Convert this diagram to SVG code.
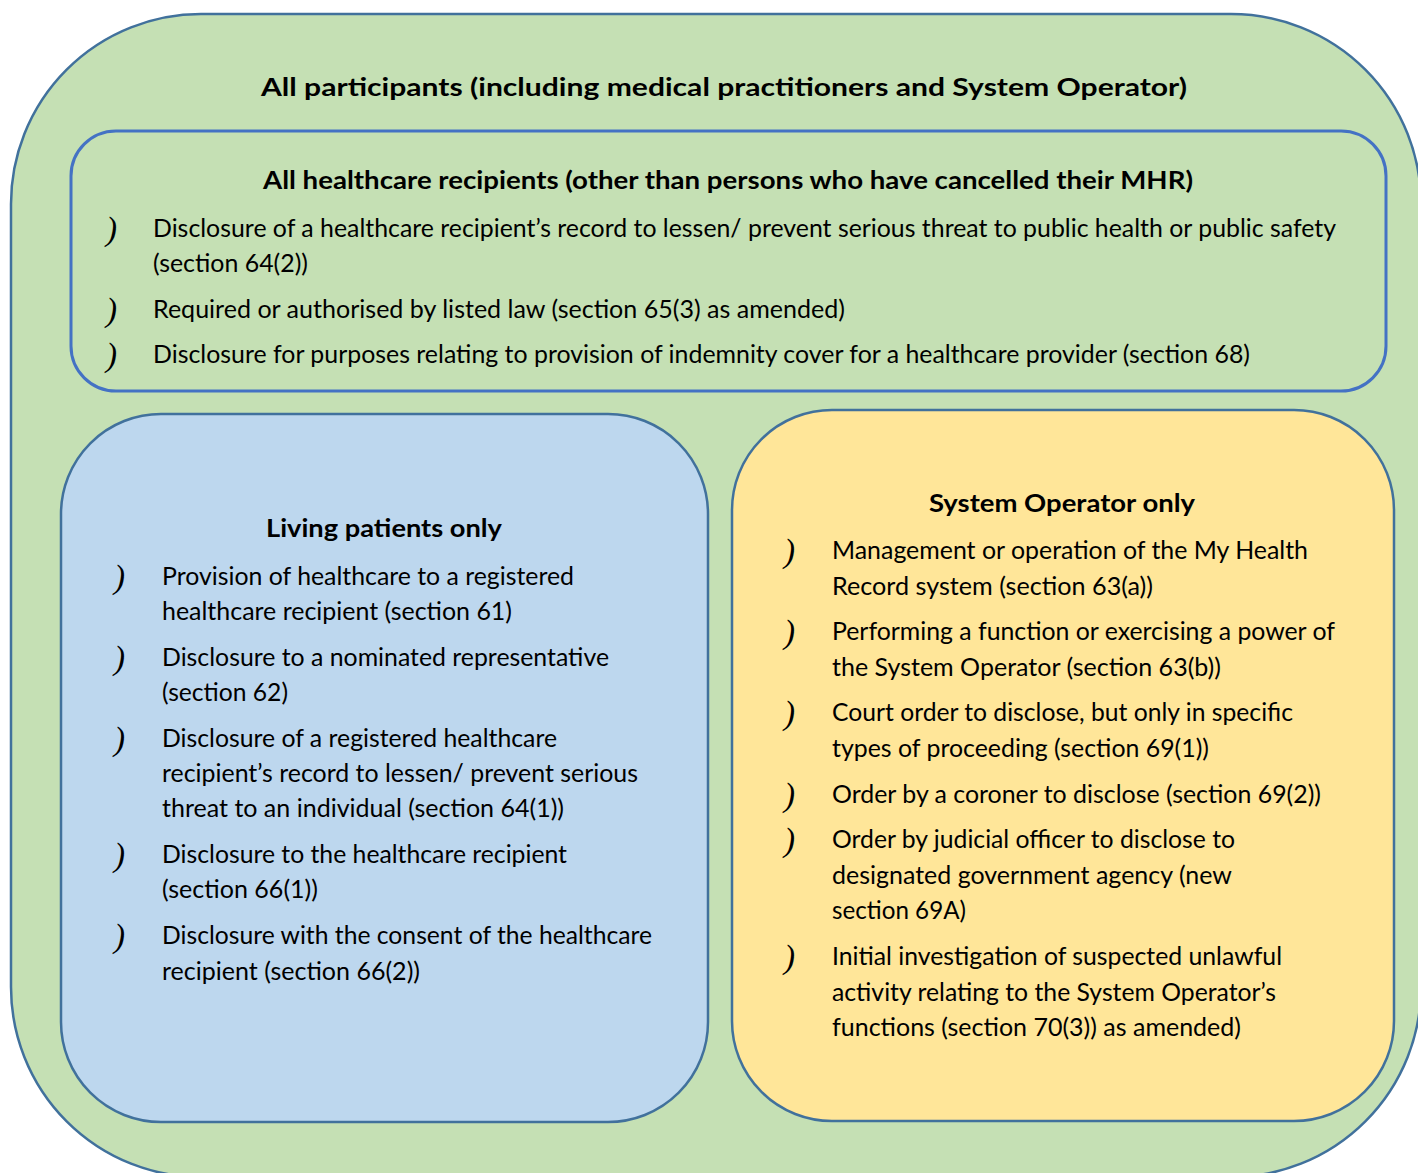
<svg xmlns="http://www.w3.org/2000/svg" width="1418" height="1173" viewBox="0 0 1418 1173">
<style>
.t{font-family:Lato,"Open Sans","Liberation Sans",sans-serif;font-size:25px;fill:#000}
.h{font-family:Lato,"Open Sans","Liberation Sans",sans-serif;font-size:25px;font-weight:bold;fill:#000}
.b{font-family:"Liberation Serif",serif;font-style:italic;font-size:33px;fill:#000}
.box{stroke:#41719C;stroke-width:2.5}
</style>
<rect x="0" y="0" width="1418" height="1173" fill="#FFFFFF"/>
<g id="all-participants">
<rect class="box" x="11" y="14" width="1410" height="1163" rx="190" ry="190" fill="#C5E0B4"/>
<text class="h" x="261" y="96" textLength="926" lengthAdjust="spacingAndGlyphs">All participants (including medical practitioners and System Operator)</text>
</g>
<g id="healthcare-recipients">
<rect x="71" y="131" width="1315" height="260" rx="45" ry="45" fill="#C5E0B4" stroke="#4472C4" stroke-width="3"/>
<text class="h" x="263" y="189" textLength="930" lengthAdjust="spacingAndGlyphs">All healthcare recipients (other than persons who have cancelled their MHR)</text>
<text class="b" x="106" y="240">)</text>
<text class="t" x="153" y="237" textLength="1183" lengthAdjust="spacingAndGlyphs">Disclosure of a healthcare recipient’s record to lessen/ prevent serious threat to public health or public safety</text>
<text class="t" x="153" y="272" textLength="155" lengthAdjust="spacingAndGlyphs">(section 64(2))</text>
<text class="b" x="106" y="321">)</text>
<text class="t" x="153" y="318" textLength="692" lengthAdjust="spacingAndGlyphs">Required or authorised by listed law (section 65(3) as amended)</text>
<text class="b" x="106" y="366">)</text>
<text class="t" x="153" y="363" textLength="1097" lengthAdjust="spacingAndGlyphs">Disclosure for purposes relating to provision of indemnity cover for a healthcare provider (section 68)</text>
</g>
<g id="living-patients">
<rect class="box" x="61" y="414" width="647" height="708" rx="100" ry="100" fill="#BDD7EE"/>
<text class="h" x="266" y="537" textLength="236" lengthAdjust="spacingAndGlyphs">Living patients only</text>
<text class="b" x="114" y="588">)</text>
<text class="t" x="162" y="585" textLength="412" lengthAdjust="spacingAndGlyphs">Provision of healthcare to a registered</text>
<text class="t" x="162" y="620" textLength="350" lengthAdjust="spacingAndGlyphs">healthcare recipient (section 61)</text>
<text class="b" x="114" y="669">)</text>
<text class="t" x="162" y="666" textLength="447" lengthAdjust="spacingAndGlyphs">Disclosure to a nominated representative</text>
<text class="t" x="162" y="701" textLength="126" lengthAdjust="spacingAndGlyphs">(section 62)</text>
<text class="b" x="114" y="750">)</text>
<text class="t" x="162" y="747" textLength="395" lengthAdjust="spacingAndGlyphs">Disclosure of a registered healthcare</text>
<text class="t" x="162" y="782" textLength="476" lengthAdjust="spacingAndGlyphs">recipient’s record to lessen/ prevent serious</text>
<text class="t" x="162" y="817" textLength="402" lengthAdjust="spacingAndGlyphs">threat to an individual (section 64(1))</text>
<text class="b" x="114" y="866">)</text>
<text class="t" x="162" y="863" textLength="405" lengthAdjust="spacingAndGlyphs">Disclosure to the healthcare recipient</text>
<text class="t" x="162" y="898" textLength="156" lengthAdjust="spacingAndGlyphs">(section 66(1))</text>
<text class="b" x="114" y="947">)</text>
<text class="t" x="162" y="944" textLength="490" lengthAdjust="spacingAndGlyphs">Disclosure with the consent of the healthcare</text>
<text class="t" x="162" y="980" textLength="258" lengthAdjust="spacingAndGlyphs">recipient (section 66(2))</text>
</g>
<g id="system-operator">
<rect class="box" x="732" y="410" width="662" height="711" rx="100" ry="100" fill="#FFE699"/>
<text class="h" x="929" y="512" textLength="266" lengthAdjust="spacingAndGlyphs">System Operator only</text>
<text class="b" x="784" y="562">)</text>
<text class="t" x="832" y="559" textLength="476" lengthAdjust="spacingAndGlyphs">Management or operation of the My Health</text>
<text class="t" x="832" y="595" textLength="321" lengthAdjust="spacingAndGlyphs">Record system (section 63(a))</text>
<text class="b" x="784" y="643">)</text>
<text class="t" x="832" y="640" textLength="503" lengthAdjust="spacingAndGlyphs">Performing a function or exercising a power of</text>
<text class="t" x="832" y="676" textLength="389" lengthAdjust="spacingAndGlyphs">the System Operator (section 63(b))</text>
<text class="b" x="784" y="724">)</text>
<text class="t" x="832" y="721" textLength="461" lengthAdjust="spacingAndGlyphs">Court order to disclose, but only in specific</text>
<text class="t" x="832" y="757" textLength="377" lengthAdjust="spacingAndGlyphs">types of proceeding (section 69(1))</text>
<text class="b" x="784" y="806">)</text>
<text class="t" x="832" y="803" textLength="489" lengthAdjust="spacingAndGlyphs">Order by a coroner to disclose (section 69(2))</text>
<text class="b" x="784" y="851">)</text>
<text class="t" x="832" y="848" textLength="403" lengthAdjust="spacingAndGlyphs">Order by judicial officer to disclose to</text>
<text class="t" x="832" y="884" textLength="400" lengthAdjust="spacingAndGlyphs">designated government agency (new</text>
<text class="t" x="832" y="919" textLength="134" lengthAdjust="spacingAndGlyphs">section 69A)</text>
<text class="b" x="784" y="968">)</text>
<text class="t" x="832" y="965" textLength="450" lengthAdjust="spacingAndGlyphs">Initial investigation of suspected unlawful</text>
<text class="t" x="832" y="1001" textLength="444" lengthAdjust="spacingAndGlyphs">activity relating to the System Operator’s</text>
<text class="t" x="832" y="1036" textLength="409" lengthAdjust="spacingAndGlyphs">functions (section 70(3)) as amended)</text>
</g>
<g id="connectors"></g>
</svg>
